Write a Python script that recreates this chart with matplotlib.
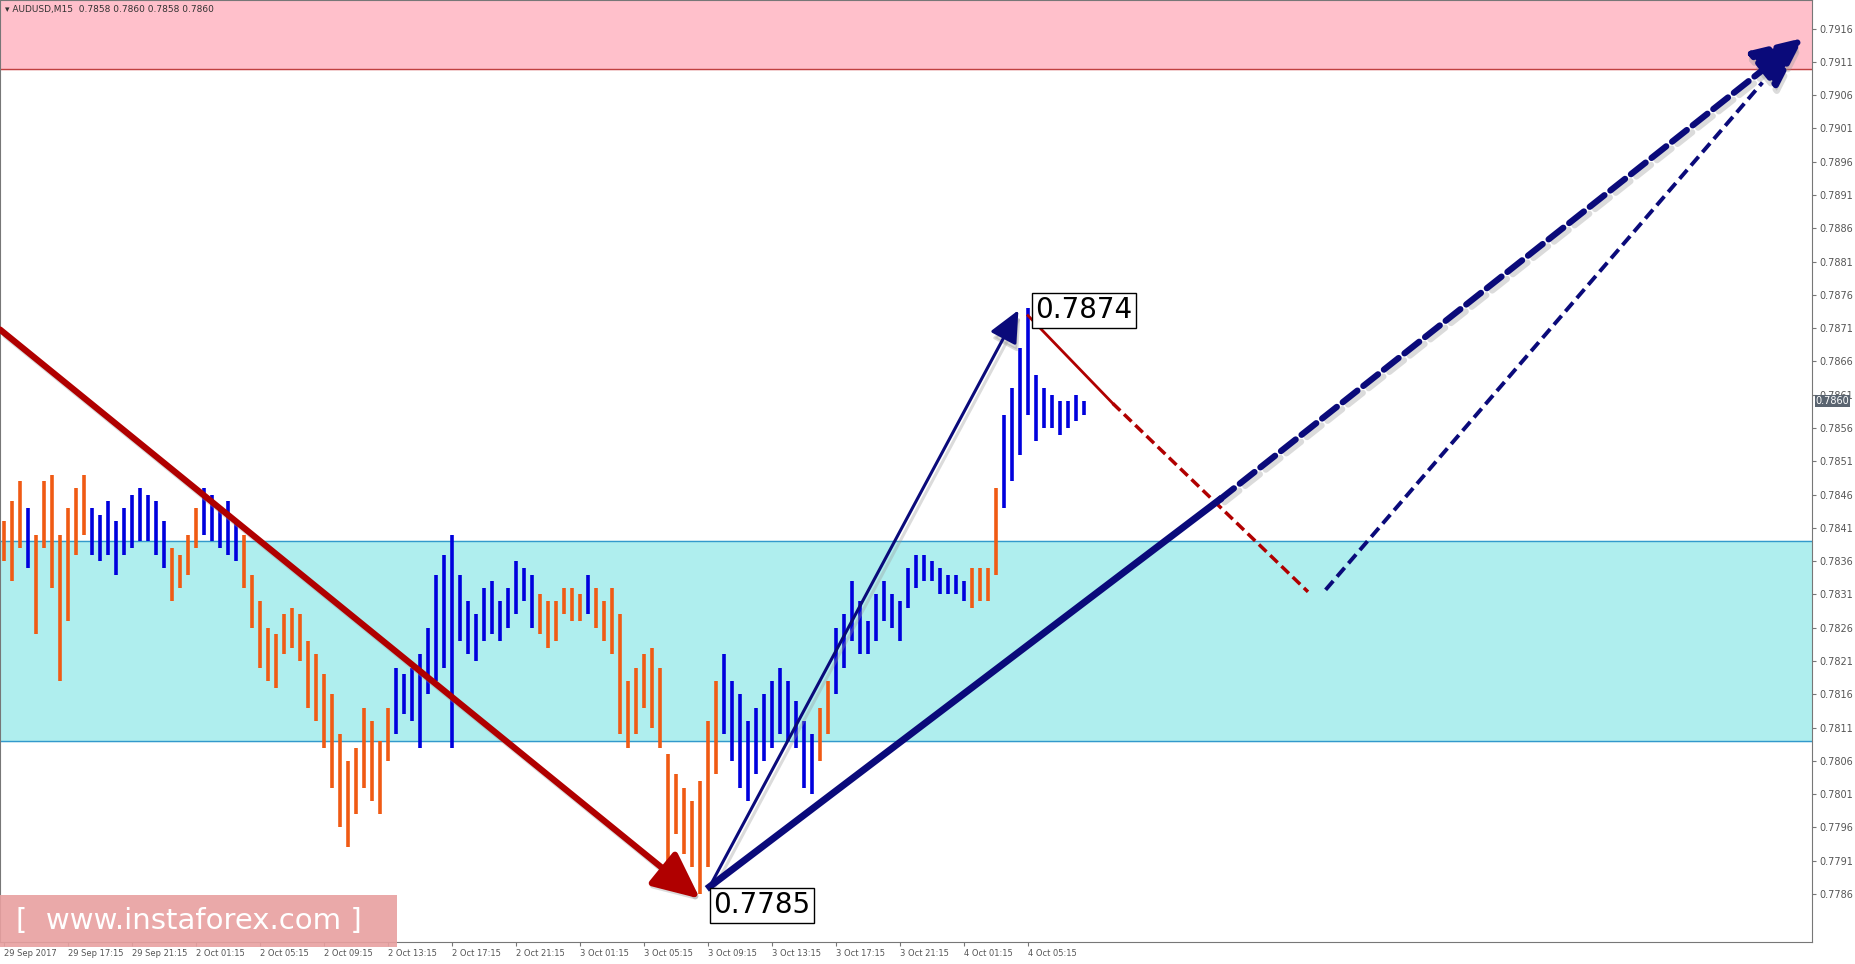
import matplotlib.pyplot as plt
from matplotlib.patches import FancyArrowPatch, Rectangle

# highs / lows in 0.0001 above 0.7800, one bar per 30 min
highs = [42, 45, 48, 44, 40, 48, 49, 40, 44, 47, 49, 44, 43, 45, 42, 44, 46, 47, 46, 45,
         42, 38, 37, 40, 44, 47, 46, 44, 45, 42, 40, 34, 30, 26, 25, 28, 29, 28, 24, 22,
         19, 16, 10, 6, 8, 14, 12, 9, 14, 20, 19, 20, 22, 26, 34, 37, 40, 34, 30, 28,
         32, 33, 30, 32, 36, 35, 34, 31, 30, 30, 32, 32, 31, 34, 32, 30, 32, 28, 18, 20,
         22, 23, 20, 7, 4, 2, 0, 3, 12, 18, 22, 18, 16, 12, 14, 16, 18, 20, 18, 15,
         12, 10, 14, 18, 26, 28, 33, 30, 27, 31, 33, 31, 30, 35, 37, 37, 36, 35, 34, 34,
         33, 35, 35, 35, 47, 58, 62, 68, 74, 64, 62, 61, 60, 60, 61, 60]
lows = [36, 33, 38, 35, 25, 38, 32, 18, 27, 37, 40, 37, 36, 37, 34, 37, 38, 39, 39, 37,
        35, 30, 32, 34, 38, 40, 39, 38, 37, 36, 32, 26, 20, 18, 17, 22, 23, 21, 14, 12,
        8, 2, -4, -7, -2, 2, 0, -2, 6, 10, 13, 12, 8, 16, 18, 20, 8, 24, 22, 21,
        24, 25, 24, 26, 28, 30, 26, 25, 23, 24, 28, 27, 27, 28, 26, 24, 22, 10, 8, 10,
        14, 11, 8, -9, -5, -8, -10, -14, -10, 4, 10, 6, 2, 0, 4, 6, 8, 10, 9, 8,
        2, 1, 6, 10, 16, 20, 24, 22, 22, 24, 27, 26, 24, 29, 32, 33, 33, 31, 31, 31,
        30, 29, 30, 30, 34, 44, 48, 52, 58, 54, 56, 56, 55, 56, 57, 58]
# colour runs: (colour, number of bars)
color_runs = [("o", 3), ("b", 1), ("o", 7), ("b", 10), ("o", 4), ("b", 5), ("o", 19),
              ("b", 18), ("o", 6), ("b", 1), ("o", 16), ("b", 12), ("o", 2), ("b", 17),
              ("o", 4), ("b", 11)]
time_labels = ["29 Sep 2017", "29 Sep 17:15", "29 Sep 21:15", "2 Oct 01:15", "2 Oct 05:15",
               "2 Oct 09:15", "2 Oct 13:15", "2 Oct 17:15", "2 Oct 21:15", "3 Oct 01:15",
               "3 Oct 05:15", "3 Oct 09:15", "3 Oct 13:15", "3 Oct 17:15", "3 Oct 21:15",
               "4 Oct 01:15", "4 Oct 05:15"]
price_ticks = [0.7786 + 0.0005 * k for k in range(27)]
pink_zone = (0.7910, 0.7925)
cyan_zone = (0.7809, 0.7839)

ORANGE = "#F05A14"
BLUE = "#0000DD"
NAVY = "#0A0A7A"
RED = "#B00000"

fig = plt.figure(figsize=(18.55, 9.64), dpi=100)
ax = fig.add_axes([0, 22 / 964, 1812 / 1855, 942 / 964])
ax.set_xlim(-0.5, 226)
ax.set_ylim(0.77788, 0.79203)

ax.axhspan(*pink_zone, color="#FFC0CB", zorder=0)
ax.axhline(pink_zone[0], color="#C04040", lw=1, zorder=1)
ax.axhspan(*cyan_zone, color="#AFEEEE", zorder=0)
ax.axhline(cyan_zone[0], color="#3399CC", lw=1, zorder=1)
ax.axhline(cyan_zone[1], color="#3399CC", lw=1, zorder=1)

cols = []
for c, k in color_runs:
    cols += [ORANGE if c == "o" else BLUE] * k
n = len(highs)
ax.vlines(range(n), [0.78 + v / 10000 for v in lows], [0.78 + v / 10000 for v in highs],
          colors=cols[:n], lw=2.6, zorder=2)


def arrow(p0, p1, color, lw, ls="-", hw=0.0):
    style = f"-|>,head_length={hw*1.3},head_width={hw*0.6}"
    ax.add_patch(FancyArrowPatch((p0[0] + 0.4, p0[1] - 0.00006), (p1[0] + 0.4, p1[1] - 0.00006),
                                 arrowstyle=style, color="#999999", lw=lw, ls=ls, alpha=0.35,
                                 mutation_scale=10, zorder=3))
    ax.add_patch(FancyArrowPatch(p0, p1, arrowstyle=style, color=color, lw=lw, ls=ls,
                                 mutation_scale=10, zorder=4, shrinkA=0, shrinkB=0))


arrow((-0.5, 0.78708), (87, 0.77853), RED, 4.5, hw=2.2)
ax.plot([128, 138.6], [0.78729, 0.78597], color=RED, lw=2, zorder=4)
ax.plot([138.6, 163], [0.78597, 0.78314], color=RED, lw=2.5, ls=(0, (3, 1.5)), zorder=4)
arrow((88.2, 0.77871), (126.8, 0.78737), NAVY, 2.2, hw=1.5)
ax.plot([88.2, 151.9], [0.77871, 0.78452], color=NAVY, lw=5, zorder=4)
arrow((151.9, 0.78452), (224.9, 0.79146), NAVY, 4.5, ls=(0, (3, 1.2)), hw=2.4)
ax.plot([165.2, 219.8], [0.78317, 0.79079], color=NAVY, lw=2.8, ls=(0, (3, 1.5)), zorder=4)

box = dict(boxstyle="square,pad=0.12", fc="white", ec="black", lw=1)
ax.text(128.9, 0.78737, "0.7874", fontsize=20, va="center", ha="left", bbox=box, zorder=6)
ax.text(88.7, 0.77843, "0.7785", fontsize=20, va="center", ha="left", bbox=box, zorder=6)

fig.patches.append(Rectangle((0, 17 / 964), 397 / 1855, 52 / 964, transform=fig.transFigure,
                             fc="#E8A0A0", ec="none", alpha=0.9, zorder=5))
fig.text(16 / 1855, 43 / 964, "[  www.instaforex.com ]", fontsize=21, color="white",
         va="center", ha="left", zorder=6)
ax.text(0.003, 0.995, "\u25be AUDUSD,M15  0.7858 0.7860 0.7858 0.7860", transform=ax.transAxes,
        fontsize=6.5, va="top", color="#333333")

ax.set_xticks(range(0, 8 * len(time_labels), 8))
ax.set_xticklabels(time_labels, fontsize=6, color="#555555", ha="left")
ax.yaxis.tick_right()
ax.set_yticks(price_ticks)
ax.set_yticklabels([f"{p:.4f}" for p in price_ticks], fontsize=7, color="#555555")
ax.tick_params(length=3, color="#777777", pad=2)
for s in ax.spines.values():
    s.set_color("#777777")
ax.text(1.002, 0.7860, "0.7860", transform=ax.get_yaxis_transform(), fontsize=7, color="white",
        va="center", ha="left", zorder=10,
        bbox=dict(boxstyle="square,pad=0.1", fc="#5A6470", ec="none"))

fig.savefig("out.png", dpi=100)
